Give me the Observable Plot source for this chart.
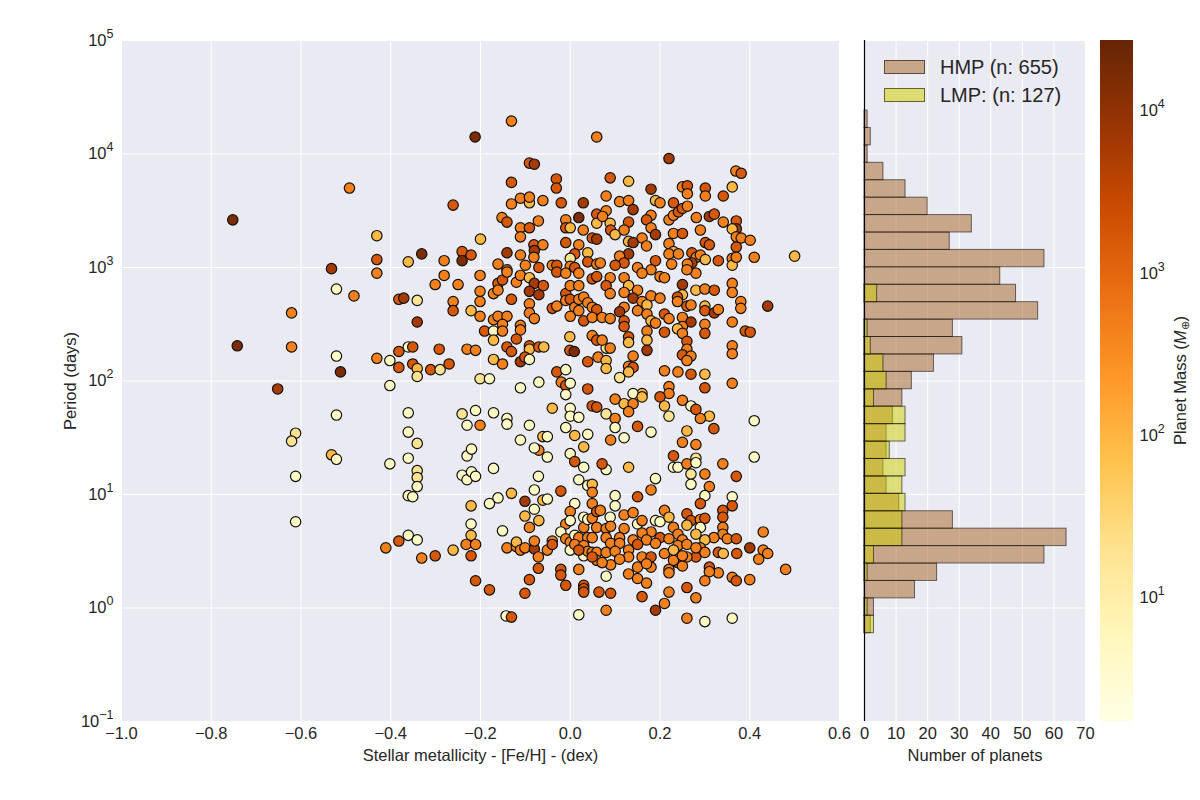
<!DOCTYPE html>
<html>
<head>
<meta charset="utf-8">
<script src="https://cdn.jsdelivr.net/npm/d3@7"></script>
<script src="https://cdn.jsdelivr.net/npm/@observablehq/plot@0.6"></script>
<style>
  body { margin: 0; background: #ffffff; }
  #fig { position: relative; width: 1200px; height: 800px; overflow: hidden;
         font-family: "Liberation Sans", Arial, Helvetica, sans-serif; color: #262626; }
  #fig svg { position: absolute; top: 0; }
  .swatch { position: absolute; width: 41px; height: 14px; box-sizing: border-box;
            border: 1px solid rgba(0, 0, 0, 0.55); }
  .lg { position: absolute; font-size: 20px; line-height: 22px; white-space: nowrap; }
</style>
</head>
<body>
<div id="fig"></div>
<script>
// ---- Planets: stellar metallicity [Fe/H] (dex), log10 orbital period (days), mass (Earth masses)
const metallicity = [
  -0.492,-0.752,-0.431,-0.331,-0.431,-0.361,-0.532,-0.431,-0.301,-0.521,
  -0.482,-0.382,-0.371,-0.341,-0.621,-0.341,-0.742,-0.621,-0.521,-0.512,
  -0.652,-0.431,-0.402,-0.382,-0.361,-0.351,-0.382,-0.351,-0.341,-0.341,
  -0.311,-0.290,-0.292,-0.402,
  -0.521,-0.612,-0.621,-0.532,-0.521,-0.612,-0.612,-0.361,-0.361,-0.341,
  -0.402,-0.361,-0.341,-0.341,-0.341,-0.361,-0.351,-0.361,-0.382,-0.341,
  -0.411,-0.331,-0.301,
  -0.131,-0.212,0.059,-0.091,-0.080,-0.131,-0.031,-0.031,-0.261,-0.131,
  -0.111,-0.091,-0.091,-0.061,-0.020,0.029,-0.152,-0.141,-0.111,-0.091,
  -0.071,-0.111,-0.010,-0.010,0.000,0.019,0.029,0.059,0.059,-0.200,
  -0.241,-0.241,-0.221,-0.281,-0.141,-0.111,-0.081,-0.061,-0.080,-0.081,
  -0.010,0.019,0.010,0.000,0.039,0.049,0.059,-0.161,-0.141,-0.100,
  -0.070,-0.040,-0.030,0.000,0.010,0.039,0.059,
  0.220,0.369,0.381,0.089,0.130,0.250,0.261,0.261,0.301,0.301,
  0.361,0.341,0.180,0.080,0.110,0.130,0.190,0.200,0.140,0.230,
  0.080,0.072,0.180,0.170,0.130,0.089,0.180,0.220,0.230,0.241,
  0.250,0.261,0.281,0.310,0.321,0.341,0.370,0.370,0.361,0.370,
  0.381,0.401,0.370,0.290,0.090,0.100,0.120,0.190,0.160,0.130,
  0.140,0.170,0.230,0.250,0.220,0.301,0.310,0.230,0.220,0.241,
  0.271,0.281,0.290,0.301,0.271,0.261,0.190,0.330,0.361,0.361,
  0.370,0.410,0.500,0.130,0.110,0.120,0.100,0.150,0.180,0.067,
  0.226,
  -0.281,-0.250,-0.201,-0.201,-0.201,-0.161,-0.151,-0.141,-0.171,-0.161,
  -0.131,-0.120,-0.111,-0.091,-0.080,-0.091,-0.070,-0.060,-0.091,-0.091,
  -0.080,-0.261,-0.261,-0.221,-0.201,-0.171,-0.161,-0.141,-0.151,-0.191,
  -0.171,-0.171,-0.151,-0.111,-0.111,-0.120,-0.141,-0.131,-0.091,-0.091,
  -0.070,-0.059,-0.111,-0.101,-0.091,-0.171,-0.151,-0.230,-0.211,-0.270,
  -0.201,-0.180,-0.111,-0.070,-0.030,-0.010,-0.020,-0.010,0.000,-0.010,
  -0.040,0.000,0.000,0.019,-0.241,-0.211,-0.171,-0.141,-0.001,-0.001,
  0.009,0.039,0.039,0.049,0.059,0.049,0.059,0.062,-0.040,-0.030,
  -0.010,0.000,0.019,-0.010,0.000,0.010,0.019,0.030,0.039,0.049,
  0.059,0.000,0.030,0.049,0.019,-0.030,-0.010,0.019,0.049,0.059,
  0.089,0.120,0.160,0.200,0.210,0.250,0.250,0.280,0.300,0.321,
  0.361,0.361,0.280,0.260,0.080,0.089,0.130,0.150,0.120,0.140,
  0.180,0.200,0.160,0.171,0.120,0.110,0.150,0.171,0.071,0.089,
  0.120,0.120,0.180,0.190,0.210,0.220,0.210,0.239,0.239,0.260,
  0.269,0.250,0.269,0.250,0.239,0.250,0.300,0.300,0.321,0.330,
  0.300,0.300,0.380,0.380,0.361,0.440,0.390,0.401,0.361,0.361,
  0.260,0.260,0.250,0.269,0.260,0.130,0.130,0.171,0.171,0.171,
  0.080,0.089,0.080,0.080,0.140,0.130,0.140,0.130,0.110,0.210,
  0.240,0.269,0.300,0.300,0.361,0.220,0.220,0.200,0.160,0.140,
  0.160,0.100,0.120,0.140,0.130,0.250,0.210,0.269,0.280,0.220,
  0.310,0.290,0.080,0.100,0.410,0.071,
  -0.230,-0.201,-0.141,-0.091,-0.061,-0.051,-0.070,-0.080,-0.051,-0.111,
  -0.010,0.010,0.039,0.030,0.000,0.010,0.030,-0.230,-0.220,-0.171,
  -0.241,-0.230,-0.220,-0.211,-0.071,0.019,0.039,0.049,0.049,-0.131,
  -0.080,-0.021,-0.180,-0.161,-0.221,-0.101,-0.080,-0.061,-0.051,-0.101,
  -0.070,-0.091,-0.151,-0.221,-0.221,-0.232,-0.211,-0.221,-0.261,-0.141,
  -0.120,-0.120,-0.111,-0.101,-0.080,-0.080,-0.071,-0.051,-0.040,-0.040,
  -0.071,-0.021,-0.021,-0.010,-0.091,-0.211,-0.180,-0.101,-0.143,-0.131,
  0.019,0.019,0.030,0.030,0.030,0.064,0.010,0.000,-0.010,-0.021,
  0.000,-0.010,0.000,0.010,0.019,0.030,0.030,0.039,0.049,0.049,
  0.059,0.059,0.039,0.049,0.000,0.010,0.030,0.030,0.039,0.049,
  0.059,0.059,0.049,0.019,
  0.100,0.150,0.180,0.090,0.120,0.260,0.320,0.250,0.280,0.230,
  0.230,0.240,0.260,0.280,0.280,0.340,0.410,0.370,0.300,0.269,
  0.269,0.310,0.300,0.290,0.130,0.080,0.071,0.190,0.180,0.150,
  0.100,0.100,0.361,0.361,0.340,0.340,0.340,0.340,0.430,0.480,
  0.400,0.430,0.440,0.420,0.400,0.361,0.370,0.330,0.310,0.310,
  0.300,0.260,0.280,0.220,0.210,0.190,0.260,0.300,0.361,0.160,
  0.080,0.090,0.080,0.130,0.150,0.170,0.090,0.150,0.180,0.220,
  0.220,0.240,0.250,0.280,0.260,0.210,0.230,0.067,0.089,0.120,
  0.140,0.150,0.160,0.190,0.200,0.210,0.220,0.260,0.269,0.290,
  0.300,0.260,0.290,0.230,0.080,0.090,0.120,0.180,0.160,0.240,
  0.280,0.320,0.350,0.370,0.080,0.110,0.140,0.170,0.200,0.220,
  0.250,0.300,0.090,0.110,0.150,0.190,0.240,0.260,0.290,0.330,
  0.341,0.371,0.080,0.100,0.130,0.130,0.160,0.180,0.250,0.230,
  0.170,0.110,0.071,0.300,0.280
];

const log10Period = [
  3.70,3.42,3.28,3.12,3.07,3.05,2.99,2.95,2.85,2.81,
  2.75,2.72,2.73,2.71,2.60,2.52,2.31,2.30,2.22,2.08,
  1.93,2.20,2.18,2.26,2.30,2.30,2.12,2.15,2.11,2.04,
  2.10,2.10,2.28,1.96,
  1.70,1.54,1.47,1.35,1.31,1.16,0.76,1.72,1.55,1.45,
  1.27,1.32,1.21,1.15,1.07,0.99,0.98,0.64,0.59,0.60,
  0.53,0.44,0.46,
  4.29,4.15,4.15,3.92,3.91,3.75,3.78,3.70,3.55,3.56,
  3.61,3.57,3.62,3.59,3.57,3.57,3.44,3.40,3.35,3.35,
  3.41,3.27,3.42,3.35,3.35,3.44,3.33,3.47,3.39,3.25,
  3.14,3.06,3.11,3.06,3.13,3.11,3.20,3.20,3.15,3.09,
  3.22,3.20,3.12,3.08,3.13,3.26,3.25,3.03,2.98,3.02,
  3.00,3.02,3.02,3.01,3.00,3.05,3.03,
  3.96,3.85,3.83,3.79,3.76,3.71,3.72,3.65,3.70,3.63,
  3.71,3.63,3.69,3.63,3.58,3.59,3.59,3.57,3.51,3.57,
  3.50,3.45,3.46,3.42,3.40,3.39,3.35,3.42,3.46,3.49,
  3.52,3.54,3.44,3.45,3.47,3.40,3.41,3.34,3.34,3.27,
  3.26,3.24,3.18,3.33,3.33,3.29,3.33,3.29,3.26,3.23,
  3.22,3.19,3.30,3.30,3.21,3.22,3.20,3.14,3.12,3.12,
  3.13,3.09,3.11,3.07,3.04,3.03,3.06,3.06,3.08,3.02,
  3.09,3.09,3.10,3.12,3.10,3.04,3.02,3.00,2.98,3.04,
  3.03,
  2.93,2.85,2.93,2.79,2.70,2.86,2.89,2.96,2.77,2.80,
  2.72,2.87,2.93,2.91,2.86,2.79,2.76,2.84,2.68,2.60,
  2.55,2.70,2.62,2.62,2.57,2.54,2.57,2.57,2.50,2.44,
  2.44,2.36,2.44,2.49,2.45,2.37,2.30,2.26,2.31,2.28,
  2.30,2.30,2.17,2.21,2.19,2.19,2.15,2.28,2.27,2.15,
  2.02,2.02,1.94,1.99,2.08,2.10,1.99,1.96,1.98,1.88,
  1.76,1.76,1.69,1.68,1.71,1.74,1.72,1.67,2.39,2.27,
  2.26,2.17,1.93,1.78,1.77,2.40,2.36,2.21,2.64,2.66,
  2.77,2.84,2.84,2.71,2.72,2.65,2.72,2.74,2.69,2.65,
  2.63,2.57,2.53,2.56,2.62,2.96,2.95,2.95,2.90,2.92,
  2.91,2.91,2.95,2.92,2.91,2.85,2.76,2.80,2.81,2.80,
  2.86,2.78,2.95,2.98,2.84,2.77,2.84,2.80,2.78,2.73,
  2.75,2.73,2.70,2.67,2.65,2.61,2.62,2.59,2.56,2.55,
  2.53,2.48,2.53,2.51,2.59,2.55,2.43,2.74,2.70,2.66,
  2.67,2.56,2.52,2.48,2.46,2.42,2.66,2.62,2.60,2.63,
  2.50,2.42,2.70,2.64,2.52,2.66,2.44,2.43,2.31,2.24,
  2.35,2.28,2.23,2.22,2.18,2.39,2.34,2.44,2.36,2.27,
  2.29,2.29,2.18,2.11,2.22,2.13,2.12,2.08,2.03,2.09,
  2.08,2.06,2.06,1.94,1.98,1.95,1.89,1.86,1.89,1.89,
  1.86,1.84,1.80,1.80,1.73,1.83,1.78,1.78,1.75,1.69,
  1.69,1.67,1.71,1.67,1.65,2.36,
  1.61,1.61,1.62,1.61,1.51,1.51,1.39,1.41,1.33,1.48,
  1.59,1.52,1.53,1.42,1.36,1.29,1.24,1.34,1.40,1.23,
  1.17,1.13,1.20,1.16,1.16,1.13,1.08,1.09,1.02,1.01,
  1.04,1.03,0.92,0.97,0.90,0.94,0.87,0.95,0.96,0.81,
  0.77,0.71,0.68,0.74,0.64,0.56,0.56,0.46,0.51,0.53,
  0.54,0.58,0.51,0.53,0.52,0.59,0.45,0.51,0.59,0.56,
  0.35,0.34,0.29,0.20,0.25,0.24,0.16,0.13,-0.07,-0.08,
  -0.06,0.34,0.20,0.17,0.14,0.14,0.92,0.85,0.74,0.67,
  0.77,0.61,0.58,0.64,0.62,0.71,0.80,0.78,0.79,0.92,
  0.85,0.71,0.62,0.62,0.51,0.56,0.55,0.46,0.50,0.49,
  0.49,0.42,0.45,0.51,
  1.59,1.60,1.55,1.48,1.50,1.56,1.58,1.46,1.44,1.34,
  1.24,1.24,1.27,1.32,1.28,1.27,1.33,1.16,1.18,1.18,
  1.09,1.07,0.99,0.92,1.24,1.22,1.27,1.14,1.04,0.98,
  0.99,0.90,0.98,0.90,0.86,0.80,0.71,0.65,0.67,0.34,
  0.53,0.51,0.48,0.43,0.25,0.27,0.24,0.31,0.36,0.32,
  0.24,0.18,0.09,0.14,0.04,-0.02,-0.09,-0.12,-0.09,0.10,
  -0.02,0.13,0.28,0.30,0.26,0.22,0.38,0.36,0.36,0.34,
  0.31,0.40,0.37,0.45,0.45,0.48,0.42,0.86,0.80,0.82,
  0.84,0.74,0.77,0.77,0.76,0.86,0.80,0.83,0.77,0.78,
  0.79,0.73,0.71,0.71,0.70,0.72,0.70,0.67,0.66,0.65,
  0.65,0.62,0.61,0.61,0.62,0.62,0.60,0.60,0.62,0.61,
  0.60,0.60,0.57,0.57,0.56,0.57,0.55,0.56,0.53,0.49,
  0.48,0.48,0.49,0.50,0.51,0.45,0.45,0.45,0.46,0.51,
  0.39,0.43,0.40,0.49,0.53
];

const massEarth = [
  450,16000,90,16000,1600,90,6000,450,450,4.5,
  450,1600,6000,19,450,6000,16000,450,4.5,16000,
  6000,450,4.5,1600,4.5,1600,1600,1600,90,19,
  1600,19,1600,4.5,
  4.5,19,19,90,4.5,4.5,4.5,4.5,4.5,19,
  4.5,4.5,19,19,4.5,4.5,4.5,4.5,1600,4.5,
  450,450,1600,
  450,16000,450,1600,6000,1600,1600,1600,1600,450,
  450,90,450,450,1600,6000,450,1600,450,1600,
  450,450,450,1600,90,16000,450,1600,90,90,
  1600,16000,1600,450,6000,450,1600,450,6000,450,
  1600,450,1600,19,90,1600,6000,450,450,450,
  1600,450,1600,450,1600,1600,450,
  6000,450,1600,1600,90,450,1600,450,1600,450,
  90,1600,6000,450,450,450,90,450,6000,1600,
  450,450,450,1600,1600,90,450,450,450,1600,
  1600,450,450,6000,1600,450,1600,6000,90,450,
  450,450,1600,450,1600,90,450,6000,450,90,
  6000,450,450,1600,450,1600,1600,90,450,450,
  1600,450,450,90,6000,450,1600,1600,450,90,
  450,450,90,6000,450,1600,1600,450,450,450,
  450,
  450,450,450,450,450,1600,1600,450,450,450,
  1600,450,450,90,6000,6000,6000,1600,450,450,
  450,450,1600,90,450,450,450,450,450,1600,
  4.5,90,450,450,450,1600,1600,1600,1600,90,
  1600,90,6000,1600,4.5,90,450,450,450,1600,
  19,4.5,4.5,4.5,1600,4.5,450,1600,4.5,4.5,
  90,4.5,4.5,4.5,19,4.5,4.5,4.5,90,1600,
  16000,1600,1600,1600,1600,450,1600,450,1600,450,
  1600,450,450,450,1600,450,450,450,450,450,
  1600,450,1600,450,450,1600,450,450,1600,1600,
  450,450,450,450,450,6000,90,90,450,1600,
  450,450,450,450,1600,450,90,450,450,6000,
  450,450,450,90,450,6000,450,450,450,450,
  1600,1600,90,450,1600,450,1600,1600,450,1600,
  450,450,6000,450,90,450,90,1600,6000,450,
  450,1600,450,450,450,6000,1600,1600,450,450,
  1600,450,1600,450,450,1600,90,450,90,6000,
  19,450,90,90,450,450,1600,90,19,450,
  450,1600,90,1600,450,450,450,1600,90,4.5,
  90,450,90,450,450,450,90,4.5,1600,19,
  90,450,19,450,4.5,450,
  4.5,450,4.5,4.5,90,4.5,450,4.5,4.5,4.5,
  4.5,90,4.5,90,4.5,1600,4.5,4.5,4.5,4.5,
  4.5,4.5,4.5,4.5,4.5,4.5,4.5,90,450,90,
  4.5,1600,4.5,4.5,90,6000,4.5,90,4.5,90,
  90,450,4.5,4.5,90,450,450,1600,90,450,
  450,90,450,450,6000,450,450,450,450,1600,
  1600,1600,1600,1600,1600,1600,1600,1600,4.5,1600,
  4.5,450,1600,1600,1600,1600,4.5,450,450,4.5,
  4.5,450,450,4.5,450,450,4.5,4.5,450,450,
  1600,450,450,450,4.5,450,450,4.5,450,450,
  450,450,1600,1600,
  4.5,1600,4.5,450,4.5,90,1600,450,450,1600,
  4.5,4.5,450,19,4.5,450,4.5,1600,450,19,
  4.5,450,4.5,1600,90,4.5,1600,4.5,450,1600,
  4.5,4.5,4.5,1600,1600,1600,450,450,450,450,
  6000,450,450,450,450,450,1600,450,1600,450,
  450,1600,450,450,450,6000,450,4.5,4.5,1600,
  450,1600,4.5,450,450,450,450,450,450,450,
  450,450,450,1600,450,450,450,450,4.5,450,
  450,4.5,450,4.5,4.5,450,90,1600,1600,450,
  1600,90,4.5,450,450,450,450,450,450,450,
  90,450,450,1600,450,450,450,450,1600,450,
  450,90,450,450,1600,450,450,450,450,1600,
  90,1600,450,450,450,450,450,1600,450,90,
  450,450,450,450,450
];

// ---- Period histogram (log-spaced bins), counts listed from the shortest-period bin upward
const binLogMin = -0.222;
const binLogMax = 4.383;
const hmpCounts = [2,3,16,23,57,64,28,11,7,6,7,7,9,12,15,22,31,28,55,48,43,57,27,34,20,13,6,1,2,1];
const lmpCounts = [3,1,0,1,3,12,12,13,12,13,8,13,13,3,7,6,2,1,0,4,0,0,0,0,0,0,0,0,0,0];

// ---- Axes
const xTicks = [-1.0, -0.8, -0.6, -0.4, -0.2, 0.0, 0.2, 0.4, 0.6];
const periodTicks = [1e-1, 1, 1e1, 1e2, 1e3, 1e4, 1e5];
const countTicks = [0, 10, 20, 30, 40, 50, 60, 70];
const massTicks = [1e1, 1e2, 1e3, 1e4];
const massDomain = [1.72, 27300];

const FONT = '"Liberation Sans", Arial, Helvetica, sans-serif';
const INK = "#262626";
const PANEL = "#eaeaf2";
const ylOrBr = ["#ffffe5","#fff7bc","#fee391","#fec44f","#fe9929","#ec7014","#cc4c02","#993404","#662506"];
const colorOpts = {type: "log", domain: massDomain, interpolate: d3.piecewise(d3.interpolateRgb, ylOrBr)};
const svgStyle = {fontFamily: FONT, fontSize: "16.5px", color: INK, background: "none", overflow: "visible"};
const powTick = d => "10^" + Math.round(Math.log10(d));

// Turn "10^k" tick labels into 10 with a raised exponent
function superscripts(svg) {
  svg.querySelectorAll("text").forEach(t => {
    const m = /^10\^(-?\d+)$/.exec(t.textContent);
    if (!m) return;
    t.textContent = "10";
    const s = document.createElementNS("http://www.w3.org/2000/svg", "tspan");
    s.setAttribute("dy", "-8");
    s.setAttribute("font-size", "12.5px");
    s.textContent = m[1].replace("-", "\u2212");
    t.appendChild(s);
  });
}

const fig = document.getElementById("fig");

// ---- Scatter: period vs metallicity, coloured by planet mass
const planets = metallicity.map((feh, i) => ({feh, period: 10 ** log10Period[i], mass: massEarth[i]}));

const scatter = Plot.plot({
  width: 860, height: 800,
  marginLeft: 121, marginRight: 21, marginTop: 40, marginBottom: 79,
  style: svgStyle,
  x: {domain: [-1, 0.6], ticks: xTicks, tickFormat: d => d.toFixed(1).replace("-", "\u2212"),
      tickSize: 0, tickPadding: 6, label: null},
  y: {type: "log", domain: [0.1, 1e5], ticks: periodTicks, tickFormat: powTick,
      tickSize: 0, tickPadding: 8, label: null},
  color: colorOpts,
  marks: [
    Plot.frame({fill: PANEL, stroke: "none"}),
    Plot.ruleX(xTicks, {stroke: "white", strokeWidth: 1}),
    Plot.ruleY(periodTicks, {stroke: "white", strokeWidth: 1}),
    Plot.dot(planets, {x: "feh", y: "period", fill: "mass", r: 5.2, stroke: "#111", strokeWidth: 1.2}),
    Plot.text(["Stellar metallicity - [Fe/H] - (dex)"], {text: d => d, frameAnchor: "bottom",
      lineAnchor: "middle", dy: 34, fontSize: 16.5, fill: INK}),
    Plot.text(["Period (days)"], {text: d => d, frameAnchor: "left", textAnchor: "middle",
      lineAnchor: "middle", rotate: -90, dx: -51, fontSize: 16.5, fill: INK})
  ]
});
scatter.style.left = "0px";
superscripts(scatter);
fig.appendChild(scatter);

// ---- Histogram of periods for high- and low-mass planets
const edges = d3.range(hmpCounts.length + 1)
  .map(i => binLogMin + i * (binLogMax - binLogMin) / hmpCounts.length);
const toBins = counts => counts
  .map((n, i) => ({n, lo: 10 ** edges[i], hi: 10 ** edges[i + 1]}))
  .filter(d => d.n > 0);

const HMP_FILL = "#a66222", LMP_FILL = "#cece00";

const hist = Plot.plot({
  width: 260, height: 800,
  marginLeft: 20, marginRight: 19, marginTop: 40, marginBottom: 79,
  style: svgStyle,
  x: {domain: [0, 70], ticks: countTicks, tickSize: 0, tickPadding: 6, label: null},
  y: {type: "log", domain: [0.1, 1e5], axis: null},
  marks: [
    Plot.frame({fill: PANEL, stroke: "none"}),
    Plot.ruleX(countTicks, {stroke: "white", strokeWidth: 1}),
    Plot.ruleY(periodTicks, {stroke: "white", strokeWidth: 1}),
    Plot.rect(toBins(hmpCounts), {x1: () => 0, x2: "n", y1: "lo", y2: "hi",
      fill: HMP_FILL, fillOpacity: 0.5, stroke: "#000", strokeOpacity: 0.55, strokeWidth: 1}),
    Plot.rect(toBins(lmpCounts), {x1: () => 0, x2: "n", y1: "lo", y2: "hi",
      fill: LMP_FILL, fillOpacity: 0.5, stroke: "#000", strokeOpacity: 0.55, strokeWidth: 1}),
    Plot.ruleX([0], {stroke: "#000", strokeWidth: 1.2}),
    Plot.text(["Number of planets"], {text: d => d, frameAnchor: "bottom",
      lineAnchor: "middle", dy: 34, fontSize: 16.5, fill: INK})
  ]
});
hist.style.left = "844px";
fig.appendChild(hist);

// Legend for the histogram
const legendRows = [
  {label: `HMP (n: ${d3.sum(hmpCounts)})`, color: "#c8a68a", top: 60},
  {label: `LMP: (n: ${d3.sum(lmpCounts)})`, color: "#dcdc70", top: 88}
];
for (const row of legendRows) {
  const sw = document.createElement("div");
  sw.className = "swatch";
  sw.style.left = "884px";
  sw.style.top = row.top + "px";
  sw.style.background = row.color;
  fig.appendChild(sw);
  const tx = document.createElement("div");
  tx.className = "lg";
  tx.style.left = "940px";
  tx.style.top = (row.top - 4) + "px";
  tx.textContent = row.label;
  fig.appendChild(tx);
}

// ---- Colour bar for planet mass
const lg0 = Math.log10(massDomain[0]), lg1 = Math.log10(massDomain[1]);
const steps = d3.range(300).map(i => ({
  lo: 10 ** (lg0 + (lg1 - lg0) * i / 300),
  hi: 10 ** (lg0 + (lg1 - lg0) * (i + 1) / 300)
}));

const cbar = Plot.plot({
  width: 110, height: 800,
  marginLeft: 10, marginRight: 67, marginTop: 40, marginBottom: 79,
  style: svgStyle,
  x: {domain: [0, 1], axis: null},
  y: {type: "log", domain: massDomain, axis: "right", ticks: massTicks, tickFormat: powTick,
      tickSize: 0, tickPadding: 6, label: null},
  color: colorOpts,
  marks: [
    Plot.rect(steps, {x1: () => 0, x2: () => 1, y1: "lo", y2: "hi",
      fill: d => Math.sqrt(d.lo * d.hi), shapeRendering: "crispEdges"})
  ]
});
cbar.style.left = "1090px";
superscripts(cbar);

const lab = d3.select(cbar).append("text")
  .attr("transform", "translate(90,380.5) rotate(-90)")
  .attr("text-anchor", "middle")
  .attr("dy", "0.35em")
  .attr("fill", INK)
  .style("font-family", FONT)
  .style("font-size", "16.5px");
lab.append("tspan").text("Planet Mass (");
lab.append("tspan").attr("font-style", "italic").text("M");
lab.append("tspan").attr("font-size", "11px").attr("dy", 3).text("\u2295");
lab.append("tspan").attr("dy", -3).text(")");
fig.appendChild(cbar);
</script>
</body>
</html>
